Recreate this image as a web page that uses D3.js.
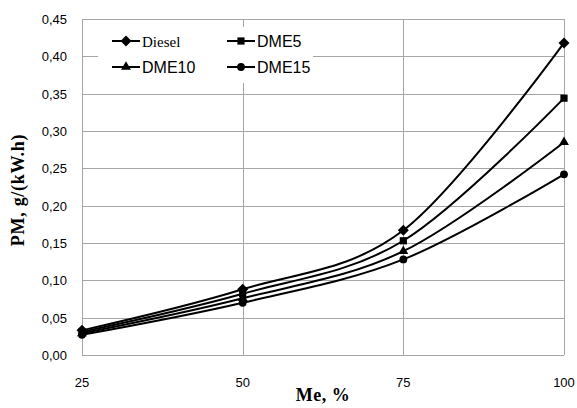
<!DOCTYPE html>
<html>
<head>
<meta charset="utf-8">
<script src="https://cdn.jsdelivr.net/npm/d3@7"></script>
<style>
body { margin: 0; background: #fff; }
svg { display: block; }
</style>
</head>
<body>
<svg id="mainSvg" width="577" height="408"></svg>
<script>
// load levels, %
var loads = [25, 50, 75, 100];
// PM, g/(kW.h)
var diesel = [0.033, 0.088, 0.167, 0.418];
var dme5 = [0.031, 0.082, 0.153, 0.344];
var dme10 = [0.029, 0.076, 0.139, 0.285];
var dme15 = [0.027, 0.070, 0.128, 0.242];
var yTicks = [0, 0.05, 0.10, 0.15, 0.20, 0.25, 0.30, 0.35, 0.40, 0.45];
var seriesNames = ["Diesel", "DME5", "DME10", "DME15"];
var seriesVals = [diesel, dme5, dme10, dme15];
var seriesSym = ["diamond", "square", "triangle", "circle"];

var plotL = 82, plotR = 564, plotT = 19, plotB = 355;
var svg = d3.select("#mainSvg");

var x = d3.scaleLinear().domain([25, 100]).range([plotL, plotR]);
var y = d3.scaleLinear().domain([0, 0.45]).range([plotB, plotT]);
var fmt = function(v) { return d3.format(".2f")(v).replace(".", ","); };

// grid
svg.append("g").selectAll("line").data(yTicks.slice(1)).enter().append("line")
	.attr("x1", plotL).attr("x2", plotR)
	.attr("y1", function(d) { return Math.round(y(d)) + 0.5; })
	.attr("y2", function(d) { return Math.round(y(d)) + 0.5; })
	.attr("stroke", "#a6a6a6").attr("stroke-width", 1);
svg.append("g").selectAll("line").data(loads).enter().append("line")
	.attr("x1", function(d) { return Math.round(x(d)) + 0.5; })
	.attr("x2", function(d) { return Math.round(x(d)) + 0.5; })
	.attr("y1", plotT).attr("y2", plotB)
	.attr("stroke", "#a6a6a6").attr("stroke-width", 1);
svg.append("line").attr("x1", plotL).attr("x2", plotR)
	.attr("y1", plotB + 0.5).attr("y2", plotB + 0.5)
	.attr("stroke", "#a6a6a6");

// tick labels
svg.append("g").selectAll("text").data(yTicks).enter().append("text")
	.attr("x", 67).attr("y", function(d) { return y(d) + 5; })
	.attr("text-anchor", "end")
	.style("font-family", "Liberation Sans, Arial, sans-serif").style("font-size", "13px")
	.text(fmt);
svg.append("g").selectAll("text").data(loads).enter().append("text")
	.attr("x", function(d) { return x(d); }).attr("y", 387)
	.attr("text-anchor", "middle")
	.style("font-family", "Liberation Sans, Arial, sans-serif").style("font-size", "13px")
	.text(function(d) { return d; });

// axis titles
svg.append("text").attr("x", 323).attr("y", 401).attr("text-anchor", "middle")
	.style("font-family", "Liberation Serif, Times New Roman, serif").style("font-size", "18px")
	.style("letter-spacing", "0.5px")
	.style("font-weight", "bold").text("Me, %");
svg.append("text").attr("transform", "translate(24,190) rotate(-90)").attr("text-anchor", "middle")
	.style("font-family", "Liberation Serif, Times New Roman, serif").style("font-size", "18px")
	.style("letter-spacing", "0.7px")
	.style("font-weight", "bold").text("PM, g/(kW.h)");

// legend background
svg.append("rect").attr("x", 98).attr("y", 27).attr("width", 215).attr("height", 56).attr("fill", "#fff");

// lines
var line = d3.line()
	.x(function(d, i) { return x(loads[i]); })
	.y(function(d) { return y(d); })
	.curve(d3.curveCardinal.tension(0));

function marker(g, sym, cx, cy) {
	var d;
	if (sym === "diamond") d = "M0,-5.5L5.5,0L0,5.5L-5.5,0Z";
	else if (sym === "square") d = d3.symbol().type(d3.symbolSquare).size(52)();
	else if (sym === "triangle") d = d3.symbol().type(d3.symbolTriangle).size(42)();
	else d = d3.symbol().type(d3.symbolCircle).size(48)();
	g.append("path").attr("d", d)
		.attr("transform", "translate(" + cx + "," + cy + ")")
		.attr("fill", "#000");
}

for (var s = 0; s < seriesVals.length; s++) {
	var g = svg.append("g");
	g.append("path").datum(seriesVals[s]).attr("d", line)
		.attr("fill", "none").attr("stroke", "#000").attr("stroke-width", 2);
	for (var i = 0; i < loads.length; i++)
		marker(g, seriesSym[s], x(loads[i]), y(seriesVals[s][i]));
}

// legend
var legPos = [[112, 41], [227, 41], [112, 67], [227, 67]];
for (var k = 0; k < seriesNames.length; k++) {
	var lg = svg.append("g");
	var lx = legPos[k][0], ly = legPos[k][1];
	lg.append("line").attr("x1", lx).attr("x2", lx + 28).attr("y1", ly).attr("y2", ly)
		.attr("stroke", "#000").attr("stroke-width", 2);
	marker(lg, seriesSym[k], lx + 14, ly);
	lg.append("text").attr("x", lx + 30).attr("y", ly + 6)
		.style("font-family", k === 0 ? "Liberation Serif, Times New Roman, serif" : "Liberation Sans, Arial, sans-serif")
		.style("font-size", k === 0 ? "15px" : "16px")
		.text(seriesNames[k]);
}
</script>
</body>
</html>
